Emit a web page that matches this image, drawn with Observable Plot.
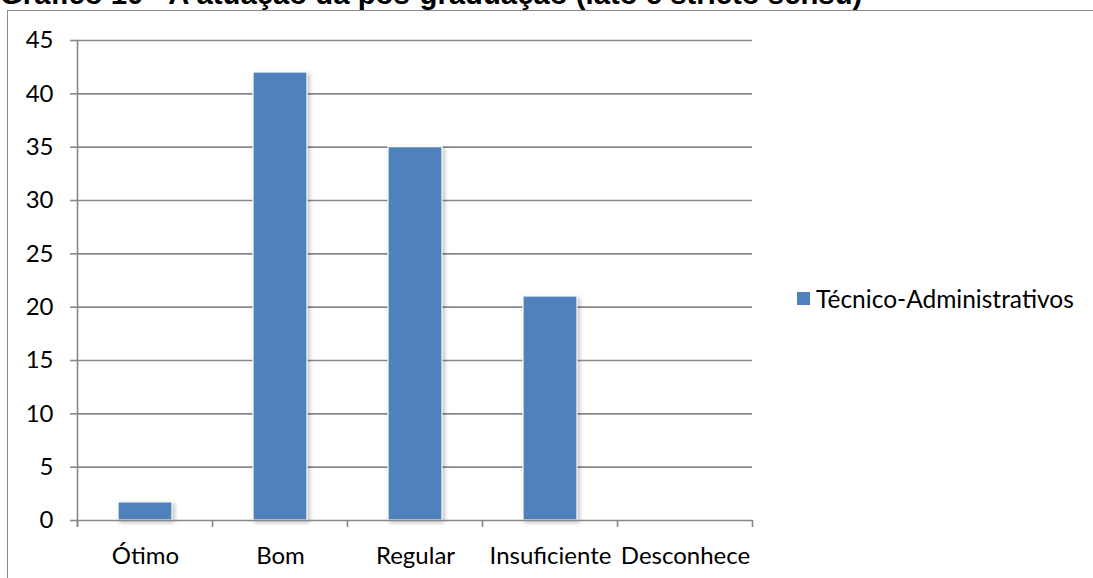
<!DOCTYPE html>
<html>
<head>
<meta charset="utf-8">
<script src="https://cdn.jsdelivr.net/npm/d3@7"></script>
<script src="https://cdn.jsdelivr.net/npm/@observablehq/plot@0.6"></script>
<style>
  html, body { margin: 0; padding: 0; background: #fff; }
  #wrap { position: relative; width: 1093px; height: 578px; overflow: hidden; background: #fff; }
  #title { position: absolute; left: 0; top: -21px; font-family: "Liberation Sans", Arial, sans-serif; font-weight: bold; font-size: 29.3px; line-height: 1; color: #000; white-space: nowrap; }
  #box { position: absolute; left: 7px; top: 10px; width: 1200px; height: 700px; border: 1.5px solid #8a8a8a; box-sizing: border-box; }
  #chart { position: absolute; left: 0; top: 0; }
  #legend { position: absolute; left: 797px; top: 284px; display: flex; align-items: center; font-family: Lato, "Open Sans", sans-serif; font-size: 24.5px; color: #000; white-space: nowrap; }
  #legend .sw { width: 13px; height: 13px; background: #4F81BD; margin-right: 6px; }
</style>
</head>
<body>
<div id="wrap">
  <div id="box"></div>
  <div id="chart"></div>
  <div id="title">Gráfico 10 - A atuação da pós-graduação (lato e stricto sensu)</div>
  <div id="legend"><div class="sw"></div><span>Técnico-Administrativos</span></div>
</div>
<script>
const categories = ["Ótimo", "Bom", "Regular", "Insuficiente", "Desconhece"];
const values = [1.7, 42, 35, 21, 0];
const seriesName = "Técnico-Administrativos";
const yTicks = [0, 5, 10, 15, 20, 25, 30, 35, 40, 45];

const data = categories.map((c, i) => ({category: c, value: values[i], series: seriesName}));
const gridColor = "#888888";
const font = 'Lato, "Open Sans", sans-serif';

const plot = Plot.plot({
  width: 1093,
  height: 578,
  marginLeft: 77,
  marginRight: 341,
  marginTop: 40,
  marginBottom: 58,
  style: {fontFamily: font, fontSize: "24px", color: "#000", background: "transparent", overflow: "visible"},
  x: {domain: categories, paddingInner: 0.6, paddingOuter: 0.3, label: null},
  y: {domain: [0, 45], ticks: yTicks, label: null},
  marks: [
    Plot.ruleY(yTicks.filter(d => d > 0), {stroke: gridColor, strokeWidth: 1.6, strokeOpacity: 1}),
    Plot.barY(data, {x: "category", y: "value", fill: "#4F81BD", stroke: "#ffffff", strokeWidth: 1.2}),
    Plot.ruleY([0], {stroke: gridColor, strokeWidth: 1.6}),
    Plot.axisY({ticks: yTicks, tickSize: 7, tickPadding: 17, stroke: gridColor, strokeWidth: 1.6, strokeOpacity: 1, fontSize: 24, label: null}),
    Plot.axisX({tickSize: 0, tickPadding: 26, fontSize: 24, label: null})
  ]
});

document.getElementById("chart").appendChild(plot);

// axis line and category boundary ticks, derived from Plot's scales
const xs = plot.scale("x");
const ys = plot.scale("y");
const svg = d3.select(plot);
const gap = (xs.step - xs.bandwidth) / 2;
const boundaries = categories.map(c => xs.apply(c) - gap);
boundaries.push(xs.apply(categories[categories.length - 1]) + xs.bandwidth + gap);
const y0 = ys.apply(0);
const yTop = ys.apply(45);
const g = svg.append("g").attr("stroke", gridColor).attr("stroke-width", 1.6);
g.append("line").attr("x1", boundaries[0]).attr("x2", boundaries[0]).attr("y1", yTop).attr("y2", y0 + 7);
g.selectAll("line.b").data(boundaries).join("line").attr("class", "b")
  .attr("x1", d => d).attr("x2", d => d).attr("y1", y0).attr("y2", y0 + 7);
svg.selectAll("g[aria-label='bar']").style("filter", "drop-shadow(2px 2px 2px rgba(0,0,0,0.25))");
</script>
</body>
</html>
